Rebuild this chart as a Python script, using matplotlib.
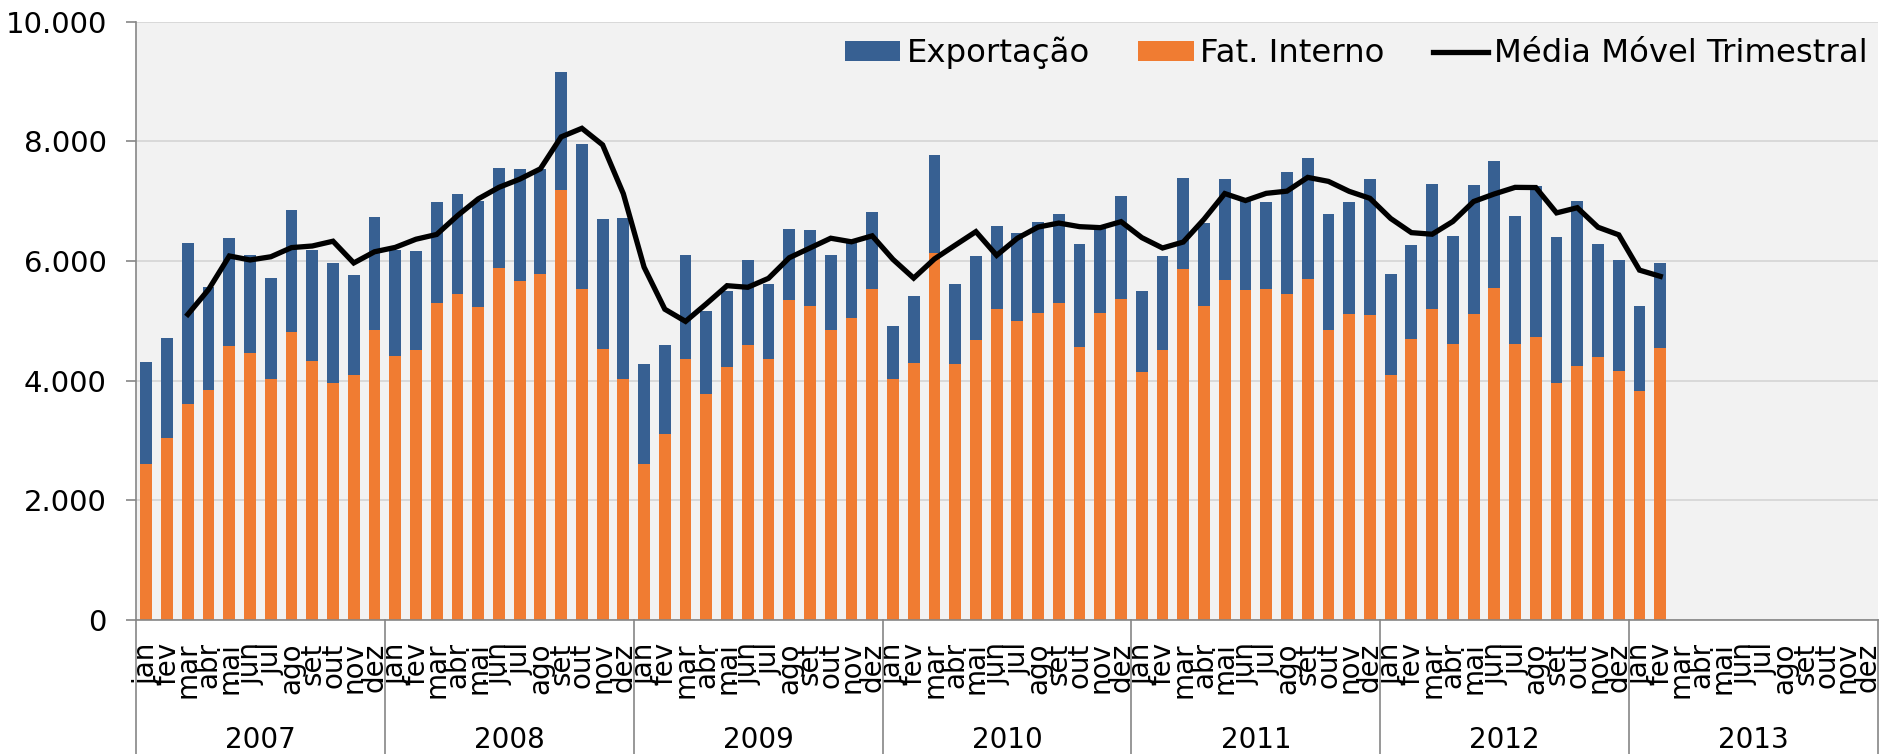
import numpy as np
import pandas as pd
import matplotlib
matplotlib.use("Agg")
import matplotlib.pyplot as plt
import matplotlib.transforms as mtransforms
from matplotlib.patches import Patch
from matplotlib.lines import Line2D
from matplotlib.ticker import FuncFormatter

# month / year categories
meses = ['jan', 'fev', 'mar', 'abr', 'mai', 'jun', 'jul', 'ago', 'set', 'out', 'nov', 'dez']
anos = ['2007', '2008', '2009', '2010', '2011', '2012', '2013']

# domestic sales (orange), jan/2007 .. fev/2013
fat_interno = [
    2610, 3040, 3610, 3850, 4580, 4470, 4030, 4820, 4330, 3960, 4100, 4840,
    4410, 4510, 5300, 5450, 5230, 5880, 5670, 5780, 7190, 5530, 4530, 4020,
    2600, 3100, 4360, 3780, 4220, 4600, 4360, 5350, 5250, 4850, 5050, 5530,
    4020, 4290, 6140, 4280, 4680, 5200, 4990, 5130, 5300, 4570, 5130, 5360,
    4140, 4520, 5870, 5240, 5680, 5520, 5530, 5450, 5700, 4840, 5120, 5090,
    4100, 4700, 5190, 4620, 5120, 5540, 4610, 4730, 3960, 4250, 4390, 4160,
    3820, 4550,
]

# exports (blue), stacked on top
exportacao = [
    1700, 1670, 2690, 1710, 1810, 1630, 1690, 2030, 1850, 2000, 1660, 1900,
    1770, 1660, 1680, 1670, 1780, 1680, 1860, 1750, 1970, 2430, 2170, 2690,
    1680, 1490, 1740, 1380, 1280, 1420, 1250, 1180, 1260, 1250, 1300, 1280,
    900, 1120, 1630, 1330, 1410, 1380, 1480, 1520, 1480, 1720, 1470, 1720,
    1350, 1560, 1510, 1390, 1690, 1510, 1460, 2030, 2020, 1950, 1860, 2280,
    1680, 1570, 2100, 1800, 2150, 2130, 2140, 2530, 2440, 2760, 1890, 1860,
    1420, 1420,
]

azul = '#376092'
laranja = '#F07C32'
cinza = '#868686'

interno = np.array(fat_interno)
export = np.array(exportacao)
total = interno + export
# 3-month moving average of the total
media = pd.Series(total).rolling(3).mean()

n_slots = len(meses) * len(anos)
x = np.arange(len(total))

fig = plt.figure(figsize=(18.8, 7.54), dpi=100)
ax = fig.add_axes([136 / 1880, 1 - 620 / 754, 1742 / 1880, (620 - 21.6) / 754])
ax.set_facecolor('#F2F2F2')

ax.bar(x, interno, width=0.57, color=laranja, zorder=2)
ax.bar(x, export, width=0.57, bottom=interno, color=azul, zorder=2)
ax.plot(x, media, color='black', lw=3.8, zorder=3, solid_joinstyle='miter')

ax.set_xlim(-0.5, n_slots - 0.5)
ax.set_ylim(0, 10000)
ax.set_yticks(np.arange(0, 10001, 2000))
ax.yaxis.set_major_formatter(FuncFormatter(lambda v, p: f'{int(v):,}'.replace(',', '.')))
ax.yaxis.grid(True, color='#D9D9D9', lw=1.4)
ax.set_axisbelow(True)

ax.set_xticks(np.arange(n_slots))
ax.set_xticklabels(meses * len(anos), rotation=90, fontsize=20)
ax.tick_params(axis='x', length=0, pad=16)
ax.tick_params(axis='y', length=7, width=1.2, color=cinza, pad=14, labelsize=21)

for s in ['top', 'right']:
    ax.spines[s].set_visible(False)
for s in ['left', 'bottom']:
    ax.spines[s].set_color(cinza)
    ax.spines[s].set_linewidth(1.2)

# year separators and year labels under the month labels
trans = mtransforms.blended_transform_factory(ax.transData, ax.transAxes)
for i in range(len(anos) + 1):
    xs = i * 12 - 0.5
    ax.plot([xs, xs], [0, -0.23], color=cinza, lw=1.2, transform=trans, clip_on=False)
for i, ano in enumerate(anos):
    ax.text(i * 12 + 5.5, -0.2, ano, transform=trans, ha='center', va='center', fontsize=20)

handles = [
    Patch(facecolor=azul, label='Exportação'),
    Patch(facecolor=laranja, label='Fat. Interno'),
    Line2D([0], [0], color='black', lw=3.8, label='Média Móvel Trimestral'),
]
fig.legend(handles=handles, loc='center right', bbox_to_anchor=(1868 / 1880, 1 - 53 / 754),
           ncol=3, frameon=False, fontsize=23.3, handlelength=1.7, handleheight=0.55,
           handletextpad=0.2, columnspacing=1.5, borderpad=0, borderaxespad=0)

fig.savefig('out.png', dpi=100)
